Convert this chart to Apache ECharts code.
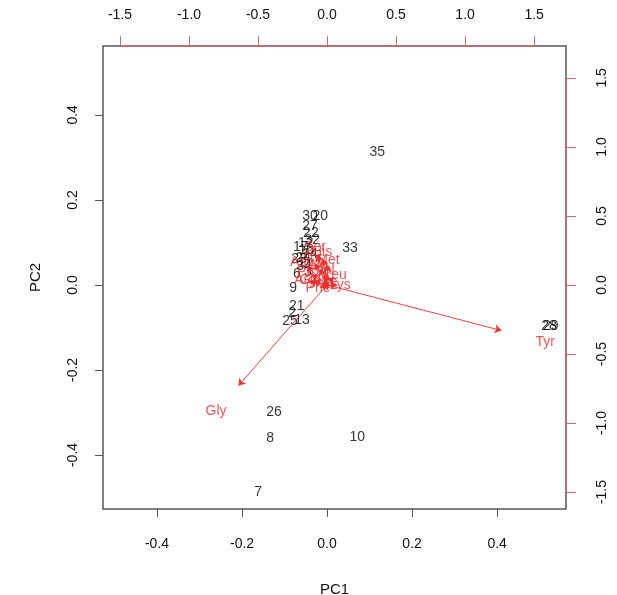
<!DOCTYPE html>
<html>
<head>
<meta charset="utf-8">
<script src="https://cdn.jsdelivr.net/npm/echarts@6/dist/echarts.min.js"></script>
<style>
  html, body { margin: 0; padding: 0; background: #fff; }
  #chart { width: 617px; height: 595px; }
</style>
</head>
<body>
<div id="chart"></div>
<script>
// scores (PC1, PC2) for each observation, primary axes
const obsNames = ["35", "33", "26", "8", "10", "7", "28", "29",
  "30", "20", "27", "22", "32", "16", "24", "34", "6", "9", "21", "2", "25", "13",
  "1", "3", "12", "14", "17", "23"];
const obsPC1 = [0.118, 0.054, -0.125, -0.134, 0.071, -0.162, 0.522, 0.526,
  -0.040, -0.016, -0.040, -0.038, -0.035, -0.049, -0.056, -0.054, -0.071, -0.080, -0.071, -0.082, -0.087, -0.059,
  -0.060, -0.045, -0.050, -0.040, -0.062, -0.066];
const obsPC2 = [0.313, 0.087, -0.299, -0.360, -0.358, -0.487, -0.096, -0.096,
  0.162, 0.162, 0.139, 0.122, 0.106, 0.082, 0.064, 0.045, 0.026, -0.007, -0.049, -0.066, -0.085, -0.082,
  0.052, 0.030, 0.098, 0.072, 0.090, 0.060];

// loadings for each variable, secondary axes
const varNames = ["Tyr", "Gly", "Ser", "His", "Thr", "Met", "Asp", "Ala", "Val", "Pro", "Leu", "Glu", "Arg", "Ile", "Phe", "Lys"];
const varPC1 = [1.580, -0.804, -0.087, -0.036, -0.109, 0.007, -0.181, -0.065, -0.014, -0.138, 0.058, -0.123, -0.159, 0.022, -0.065, 0.094];
const varPC2 = [-0.413, -0.913, 0.275, 0.239, 0.196, 0.181, 0.167, 0.145, 0.109, 0.094, 0.072, 0.036, 0.036, 0.022, -0.022, 0.000];

const pcTicks = [-0.4, -0.2, 0.0, 0.2, 0.4];
const loadTicks = [-1.5, -1.0, -0.5, 0.0, 0.5, 1.0, 1.5];

const arrowScale = 0.8; // biplot draws arrows to 0.8 of each loading
const pcRange = [-0.527, 0.562];
const loadRange = [-1.623, 1.731];

const font = "Liberation Sans, Arial, Helvetica, sans-serif";
const red = "#ee2a2a";
const axisRed = "#cc6a6a";
const grey = "#555";

const chart = echarts.init(document.getElementById("chart"));

function fmt(v) {
  return Number(v).toFixed(1);
}

function primaryAxis(pos, isX) {
  return {
    type: "value",
    position: pos,
    min: pcRange[0],
    max: pcRange[1],
    name: isX ? "PC1" : "PC2",
    nameLocation: "middle",
    nameGap: isX ? 73 : 60,
    nameTextStyle: { color: "#111", fontSize: 15, fontFamily: font },
    axisLine: { show: false, onZero: false },
    axisTick: {
      show: true, length: 8, inside: false,
      customValues: pcTicks,
      lineStyle: { color: grey, width: 1 },
    },
    axisLabel: {
      customValues: pcTicks,
      formatter: fmt,
      rotate: isX ? 0 : 90,
      margin: isX ? 28 : 23,
      color: "#111",
      fontSize: 14,
      fontFamily: font,
    },
    splitLine: { show: false },
  };
}

function secondaryAxis(pos, isX) {
  return {
    type: "value",
    position: pos,
    min: loadRange[0],
    max: loadRange[1],
    axisLine: { show: false, onZero: false },
    axisTick: {
      show: true, length: 10, inside: false,
      customValues: loadTicks,
      lineStyle: { color: axisRed, width: 1 },
    },
    axisLabel: {
      customValues: loadTicks,
      formatter: fmt,
      rotate: isX ? 0 : 90,
      margin: isX ? 24 : 29,
      color: "#111",
      fontSize: 14,
      fontFamily: font,
    },
    splitLine: { show: false },
  };
}

const obsData = obsNames.map((n, i) => ({ name: n, value: [obsPC1[i], obsPC2[i]] }));
const varData = varNames.map((n, i) => ({ name: n, value: [varPC1[i], varPC2[i]] }));
const arrowData = varNames.map((n, i) => ({
  coords: [[0, 0], [varPC1[i] * arrowScale, varPC2[i] * arrowScale]],
}));

const option = {
  animation: false,
  backgroundColor: "#fff",
  grid: {
    left: 103, right: 51, top: 46, bottom: 86,
    outerBoundsMode: "none",
    containLabel: false,
    show: true,
    borderColor: grey,
    borderWidth: 1.5,
    backgroundColor: "transparent",
  },
  xAxis: [primaryAxis("bottom", true), secondaryAxis("top", true)],
  yAxis: [primaryAxis("left", false), secondaryAxis("right", false)],
  series: [
    {
      // observation labels
      type: "scatter",
      xAxisIndex: 0, yAxisIndex: 0,
      symbolSize: 1,
      itemStyle: { color: "rgba(0,0,0,0)" },
      label: {
        show: true, position: "inside",
        formatter: (p) => p.name,
        color: "#000", fontSize: 14, fontFamily: font,
      },
      data: obsData,
      z: 3,
    },
    {
      // loading arrows
      type: "lines",
      coordinateSystem: "cartesian2d",
      xAxisIndex: 1, yAxisIndex: 1,
      symbol: ["none", "arrow"],
      symbolSize: 7,
      lineStyle: { color: red, width: 1, opacity: 0.9 },
      data: arrowData,
      z: 4,
    },
    {
      // loading labels
      type: "scatter",
      xAxisIndex: 1, yAxisIndex: 1,
      symbolSize: 1,
      itemStyle: { color: "rgba(0,0,0,0)" },
      label: {
        show: true, position: "inside",
        formatter: (p) => p.name,
        color: red, fontSize: 14, fontFamily: font,
      },
      data: varData,
      z: 5,
    },
    {
      // red top axis line (from first to last tick)
      type: "line",
      xAxisIndex: 1, yAxisIndex: 1,
      symbol: "none", clip: false,
      lineStyle: { color: axisRed, width: 1.5 },
      data: [[loadTicks[0], loadRange[1]], [loadTicks[loadTicks.length - 1], loadRange[1]]],
      z: 6,
    },
    {
      // red right axis line
      type: "line",
      xAxisIndex: 1, yAxisIndex: 1,
      symbol: "none", clip: false,
      lineStyle: { color: axisRed, width: 1.5 },
      data: [[loadRange[1], loadTicks[0]], [loadRange[1], loadTicks[loadTicks.length - 1]]],
      z: 6,
    },
  ],
};

chart.setOption(option);
</script>
</body>
</html>
